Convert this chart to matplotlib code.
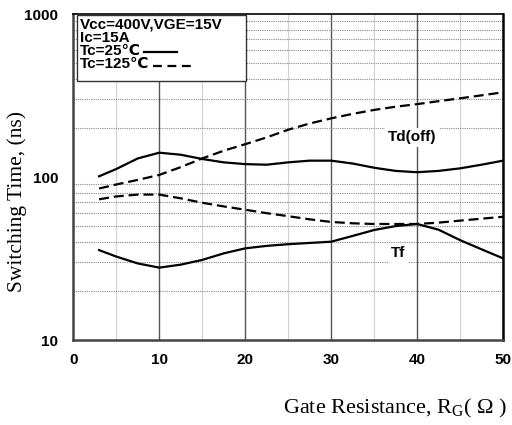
"""Switching time vs gate resistance (IGBT datasheet style)"""
import numpy as np
import matplotlib
matplotlib.use('Agg')
import matplotlib.pyplot as plt
from matplotlib.patches import Rectangle
from matplotlib.lines import Line2D

plt.rcParams['mathtext.fontset'] = 'custom'
plt.rcParams['mathtext.rm'] = 'Liberation Serif'

# gate resistance (ohm)
rg = [3, 5, 7.5, 10, 12.5, 15, 17.5, 20, 22.5, 25, 27.5, 30, 32.5, 35,
      37.5, 40, 42.5, 45, 47.5, 50]

# switching times (ns)
td_off_25 = [101, 112, 130, 141, 137, 129, 123, 120, 119, 123, 126, 126,
             121, 114, 109, 107, 109, 113, 119, 126]
td_off_125 = [85, 90, 96, 103, 115, 130, 145, 159, 175, 195, 213, 229,
              244, 258, 270, 280, 292, 304, 317, 331]
tf_25 = [35.6, 32.5, 29.5, 27.8, 29, 31, 34, 36.5, 37.8, 38.7, 39.4, 40.1,
         43.5, 47.3, 50, 51.5, 47.5, 41, 36, 31.7]
tf_125 = [73, 76, 78, 78, 74, 69.5, 66, 63, 60, 57.5, 55, 53, 52, 51.5,
          51.5, 51.5, 52.5, 54, 55.5, 57]

x_ticks = [0, 10, 20, 30, 40, 50]
y_ticks = [10, 100, 1000]
y_minor = [20, 30, 40, 50, 60, 70, 80, 90, 200, 300, 400, 500, 600, 700, 800, 900]

legend_lines = ['Vcc=400V,VGE=15V', 'Ic=15A', 'Tc=25\u2103', 'Tc=125\u2103']

SANS = ['Liberation Sans', 'DejaVu Sans']
SERIF = ['Liberation Serif', 'DejaVu Serif']


def main():
    fig = plt.figure(figsize=(5.12, 4.25), dpi=100)
    ax = fig.add_axes([0.1432, 0.2, 0.8393, 0.767])
    ax.set_yscale('log')
    ax.set_xlim(0, 50)
    ax.set_ylim(10, 1000)

    # grid
    for xv in [10, 20, 30, 40]:
        ax.axvline(xv, color='#555555', lw=1.0, zorder=1)
    for xv in [5, 15, 25, 35, 45]:
        ax.axvline(xv, color='#d0d0d0', lw=0.8, zorder=1)
    for yv in y_minor:
        ax.axhline(yv, color='#888888', lw=0.8, ls=(0, (1, 1)), zorder=1)

    lw = 1.6
    ax.plot(rg, td_off_25, color='black', lw=lw, zorder=4)
    ax.plot(rg, tf_25, color='black', lw=lw, zorder=4)
    ax.plot(rg, td_off_125, color='black', lw=lw, dashes=(4.5, 2.2), zorder=4)
    ax.plot(rg, tf_125, color='black', lw=lw, dashes=(4.5, 2.2), zorder=4)

    # curve labels
    box = dict(facecolor='white', edgecolor='none', pad=2)
    ax.text(39.4, 175, 'Td(off)', family=SANS, fontsize=11, fontweight='bold',
            ha='center', va='center', bbox=box, zorder=3)
    ax.text(37.8, 34, 'Tf', family=SANS, fontsize=11, fontweight='bold',
            ha='center', va='center', bbox=box, zorder=3)

    # condition box
    ax.add_patch(Rectangle((0.0086, 0.794), 0.393, 0.203, transform=ax.transAxes,
                           facecolor='white', edgecolor='#333333', lw=1.0,
                           zorder=5))
    y0 = 0.968
    step = 0.0408
    texts = []
    for i, txt in enumerate(legend_lines):
        t = ax.text(0.0156, y0 - i * step, txt, transform=ax.transAxes,
                    family=SANS, fontsize=11, fontweight='bold', va='center',
                    ha='left', zorder=6)
        texts.append(t)

    # line samples after the two temperature entries
    fig.canvas.draw()
    inv = ax.transAxes.inverted()
    ax_w = ax.get_window_extent().width
    for t, length, style in [(texts[2], 33, '-'), (texts[3], 39, '--')]:
        bb = t.get_window_extent()
        x_end = inv.transform((bb.x1, bb.y0))[0] + 3 / ax_w
        yl = t.get_position()[1] - 0.004
        kw = dict(dashes=(4, 2.5)) if style == '--' else {}
        ax.add_line(Line2D([x_end, x_end + length / ax_w], [yl, yl],
                           transform=ax.transAxes, color='black', lw=1.6,
                           zorder=6, **kw))

    # axes and ticks
    ax.set_xticks(x_ticks)
    ax.set_xticklabels([str(v) for v in x_ticks], family=SANS, fontsize=11,
                       fontweight='bold')
    ax.set_yticks(y_ticks)
    ax.set_yticklabels([str(v) for v in y_ticks], family=SANS, fontsize=11,
                       fontweight='bold')
    ax.yaxis.set_minor_locator(matplotlib.ticker.NullLocator())
    ax.tick_params(length=0)
    ax.tick_params(axis='y', pad=11)
    ax.tick_params(axis='x', pad=9)
    for side in ['left', 'bottom']:
        ax.spines[side].set_color('#444444')
        ax.spines[side].set_linewidth(1.8)
    for side in ['top', 'right']:
        ax.spines[side].set_color('black')
        ax.spines[side].set_linewidth(1.2)
    ax.spines['right'].set_linewidth(1.8)

    fig.text(0.034, 0.526, 'Switching Time, (ns)', family=SERIF, fontsize=15.5,
             rotation=90, ha='center', va='center')
    fig.text(0.99, 0.04, 'Gate Resistance, R$_{\\rm G}$( \u03a9 )',
             family=SERIF, fontsize=16, ha='right', va='center')

    fig.savefig('out.png', dpi=100)


if __name__ == '__main__':
    main()
